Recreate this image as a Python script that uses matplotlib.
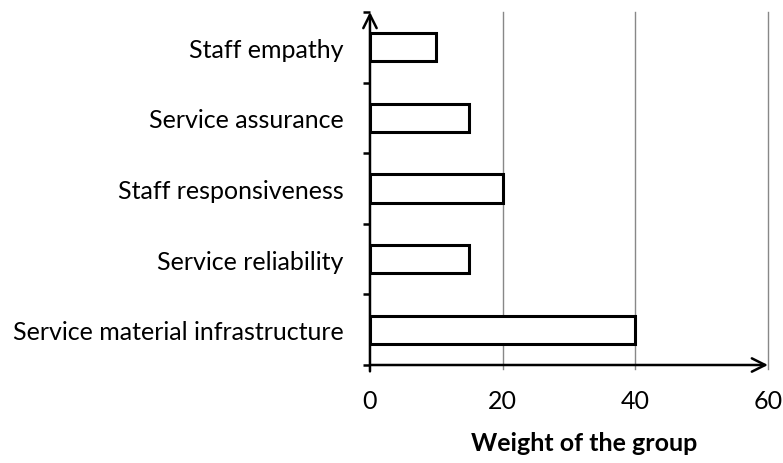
import numpy as np
import matplotlib.pyplot as plt

# data (bottom to top)
groups = ['Service material infrastructure', 'Service reliability',
          'Staff responsiveness', 'Service assurance', 'Staff empathy']
weights = [40, 15, 20, 15, 10]
x_ticks = [0, 20, 40, 60]

plt.rcParams['font.family'] = ['Lato', 'DejaVu Sans']

fig = plt.figure(figsize=(7.83, 4.64), dpi=100)
ax = fig.add_axes([0.4725, 0.2112, 0.5083, 0.7608])

pos = np.arange(len(groups))
ax.barh(pos, weights, height=0.4, color='white', edgecolor='black', linewidth=2.2, zorder=3)

ax.set_xlim(0, 60)
ax.set_ylim(-0.5, len(groups) - 0.5)

# vertical grid
for g in x_ticks[1:]:
    ax.axvline(g, ymin=-0.01, ymax=1, color='#888888', linewidth=1, zorder=1, clip_on=False)

# y: ticks at boundaries, labels at centres
ax.set_yticks(np.arange(-0.5, len(groups), 1.0))
ax.set_yticklabels([])
ax.set_yticks(pos, minor=True)
ax.set_yticklabels(groups, minor=True, fontsize=18)
ax.tick_params(axis='y', which='major', direction='out', length=5, width=1.8)
ax.tick_params(axis='y', which='minor', length=0, pad=19)

ax.set_xticks(x_ticks)
ax.set_xticklabels([str(t) for t in x_ticks], fontsize=18)
ax.tick_params(axis='x', length=0, pad=17)
ax.set_xlabel('Weight of the group', fontsize=18, fontweight='bold')
ax.xaxis.set_label_coords(0.538, -0.188)

for s in ax.spines.values():
    s.set_visible(False)

# axes drawn as arrows
ax.annotate('', xy=(1.0, 0), xytext=(0, 0), xycoords='axes fraction',
            arrowprops=dict(arrowstyle='->', color='black', lw=1.8,
                            mutation_scale=24, shrinkA=0, shrinkB=0), zorder=4)
ax.annotate('', xy=(0, 1.0), xytext=(0, -0.018), xycoords='axes fraction',
            arrowprops=dict(arrowstyle='->', color='black', lw=1.8,
                            mutation_scale=24, shrinkA=0, shrinkB=0), zorder=4)

fig.savefig('out.png', dpi=100)
